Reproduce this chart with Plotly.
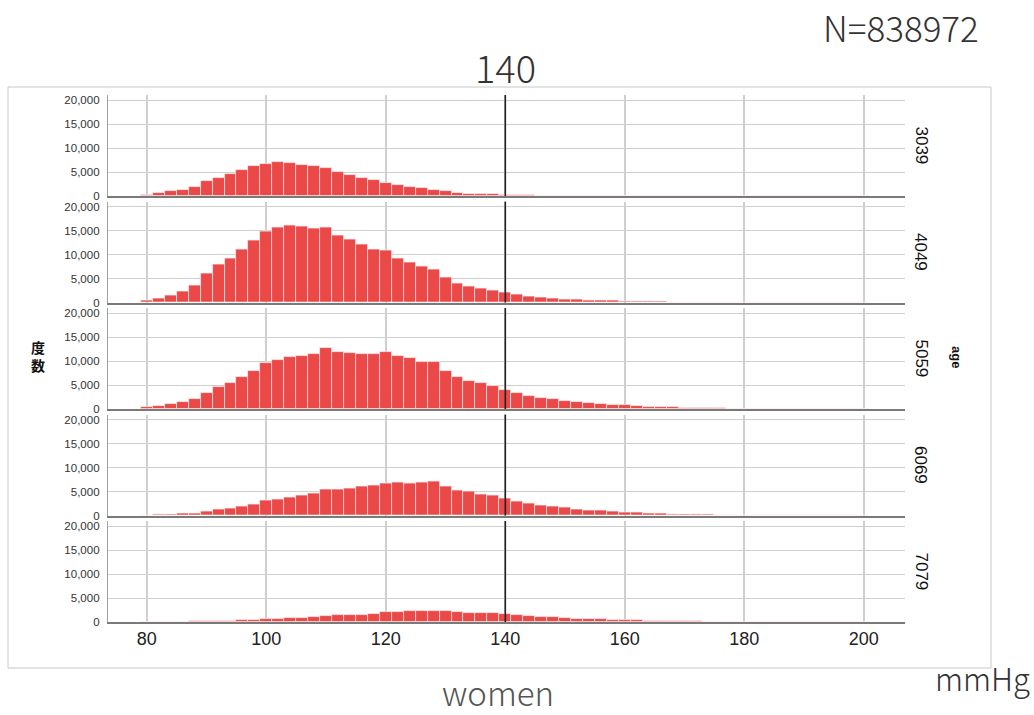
import plotly.graph_objects as go

# ---- data ----
bin_centers = list(range(80, 202, 2))  # 2 mmHg bins, centres 80..200

age_groups = ["3039", "4049", "5059", "6069", "7079"]

counts_3039 = [300, 570, 1000, 1350, 1900, 3050, 3850, 4600, 5400, 6200,
               6700, 7000, 6850, 6400, 6150, 5850, 5000, 4300, 3800, 3300,
               2800, 2300, 1900, 1650, 1350, 1050, 650, 500, 430, 350,
               250, 180, 130, 100, 80, 60, 50, 40, 30, 25,
               20, 15, 12, 10, 8, 6, 5, 4, 3, 3,
               2, 2, 1, 1, 1, 1, 0, 0, 0, 0, 0]
counts_4049 = [420, 850, 1550, 2350, 3600, 6000, 7850, 9250, 10950, 12950,
               14800, 15650, 16050, 15850, 15400, 15550, 14050, 13100, 12150, 11000,
               10750, 9250, 8250, 7550, 6850, 5150, 3950, 3400, 2950, 2500,
               2000, 1650, 1300, 1050, 850, 700, 560, 500, 420, 350,
               280, 210, 170, 130, 100, 80, 60, 50, 40, 30,
               25, 20, 15, 12, 10, 8, 6, 5, 4, 3, 2]
counts_5059 = [350, 700, 1000, 1500, 2050, 3400, 4550, 5500, 6600, 7900,
               9550, 10300, 10800, 11050, 11550, 12750, 11950, 11700, 11550, 11400,
               11900, 11050, 10600, 9900, 9700, 7950, 6600, 5900, 5400, 4850,
               4000, 3250, 2700, 2300, 2050, 1700, 1400, 1200, 1050, 900,
               780, 640, 500, 420, 350, 280, 220, 170, 130, 100,
               80, 60, 45, 35, 28, 20, 15, 12, 10, 8, 6]
counts_6069 = [70, 140, 210, 350, 500, 900, 1200, 1500, 1900, 2350,
               3050, 3400, 3800, 4250, 4650, 5350, 5450, 5650, 5950, 6150,
               6650, 6850, 6650, 6850, 7000, 6100, 5150, 4900, 4450, 4150,
               3600, 2900, 2500, 2100, 1900, 1600, 1250, 1100, 950, 850,
               700, 560, 430, 350, 280, 220, 170, 130, 100, 80,
               60, 45, 35, 28, 20, 15, 12, 10, 8, 6, 5]
counts_7079 = [20, 30, 50, 80, 150, 200, 250, 300, 380, 450,
               580, 700, 800, 900, 1050, 1250, 1400, 1450, 1550, 1750,
               2150, 2150, 2250, 2350, 2350, 2250, 2000, 1950, 1950, 1850,
               1700, 1450, 1150, 1050, 950, 800, 700, 640, 570, 500,
               430, 360, 290, 250, 210, 170, 130, 100, 80, 60,
               45, 35, 28, 20, 15, 12, 10, 8, 6, 5, 4]
all_counts = [counts_3039, counts_4049, counts_5059, counts_6069, counts_7079]

x_ticks = [80, 100, 120, 140, 160, 180, 200]
y_ticks = [0, 5000, 10000, 15000, 20000]
reference_bp = 140
n_total_label = "N=838972"

# ---- layout geometry (screen pixels; body margin removed via post_script) ----
W, H = 1034, 715
L, R, T, B = 108, 905, 95, 622
plot_w = R - L
plot_h = B - T
panel_h = 101
panel_step = 106.5


def px(sx):
    return (sx - L) / plot_w


def py(sy):
    return (B - sy) / plot_h


bar_color = "#EB4848"
fig = go.Figure()
layout = dict(
    width=W, height=H,
    margin=dict(l=L, r=W - R, t=T, b=H - B),
    paper_bgcolor="white", plot_bgcolor="white",
    showlegend=False, bargap=0,
    font=dict(family="Liberation Sans, Arial, sans-serif", color="#222"),
)
shapes = []
annotations = []

for i, (grp, cnt) in enumerate(zip(age_groups, all_counts)):
    k = i + 1
    xa = "x" if k == 1 else f"x{k}"
    ya = "y" if k == 1 else f"y{k}"
    fig.add_trace(go.Bar(
        x=bin_centers, y=cnt, width=2, xaxis=xa, yaxis=ya,
        marker=dict(color=bar_color, line=dict(color="rgba(255,235,235,0.85)", width=0.8)),
        hoverinfo="x+y",
    ))
    top_px = T + i * panel_step
    bot_px = top_px + panel_h
    layout[f"xaxis{'' if k == 1 else k}"] = dict(
        domain=[0, 1], anchor=ya, range=[73.5, 206.9],
        tickvals=x_ticks, showticklabels=(k == 5),
        tickfont=dict(size=18, color="#222"),
        showgrid=True, gridcolor="#cfcfcf", gridwidth=1.5,
        showline=True, linecolor="#7a7a7a", linewidth=1.5,
        zeroline=False, ticks="",
    )
    layout[f"yaxis{'' if k == 1 else k}"] = dict(
        domain=[py(bot_px), py(top_px)], anchor=xa, range=[0, 21050],
        tickvals=y_ticks, tickformat=",", tickfont=dict(size=11.5, color="#333"),
        showgrid=True, gridcolor="#cfcfcf", gridwidth=1.3,
        showline=True, linecolor="#a0a0a0", linewidth=1.3,
        zeroline=False, ticks="", ticklabelstandoff=5,
    )
    shapes.append(dict(type="line", xref=xa, yref=f"{ya} domain",
                       x0=reference_bp, x1=reference_bp, y0=0, y1=1,
                       line=dict(color="#222", width=1.6)))
    annotations.append(dict(text=grp, xref="paper", yref="paper",
                            x=px(921), y=py((top_px + bot_px) / 2),
                            xanchor="center", yanchor="middle",
                            showarrow=False, textangle=90,
                            font=dict(size=17, color="#111")))

# outer frame
shapes.append(dict(type="rect", xref="paper", yref="paper",
                   x0=px(8), x1=px(991), y0=py(668), y1=py(87),
                   line=dict(color="#c8c8c8", width=1), layer="below"))

big_font = "Noto Sans CJK JP, Noto Sans, sans-serif"
annotations += [
    dict(text="140", xref="x5", yref="paper", x=reference_bp, y=py(67),
         xanchor="center", yanchor="middle", showarrow=False,
         font=dict(size=38, color="#333", family=big_font, weight=300)),
    dict(text=n_total_label, xref="paper", yref="paper", x=px(901), y=py(27),
         xanchor="center", yanchor="middle", showarrow=False,
         font=dict(size=35, color="#333", family=big_font, weight=300)),
    dict(text="women", xref="paper", yref="paper", x=px(498), y=py(692),
         xanchor="center", yanchor="middle", showarrow=False,
         font=dict(size=33, color="#555", family=big_font, weight=300)),
    dict(text="mmHg", xref="paper", yref="paper", x=px(982), y=py(677),
         xanchor="center", yanchor="middle", showarrow=False,
         font=dict(size=31, color="#333", family=big_font, weight=300)),
    dict(text="<b>度<br>数</b>", xref="paper", yref="paper", x=px(38), y=py(356),
         xanchor="center", yanchor="middle", showarrow=False,
         font=dict(size=14, color="#111", family=big_font)),
    dict(text="<b>age</b>", xref="paper", yref="paper", x=px(957), y=py(357),
         xanchor="center", yanchor="middle", showarrow=False, textangle=90,
         font=dict(size=13, color="#111")),
]

layout["shapes"] = shapes
layout["annotations"] = annotations
fig.update_layout(**layout)
fig.write_html(
    "out.html",
    config={"displayModeBar": False},
    post_script="document.body.style.margin='0';document.body.style.overflow='hidden';",
)
